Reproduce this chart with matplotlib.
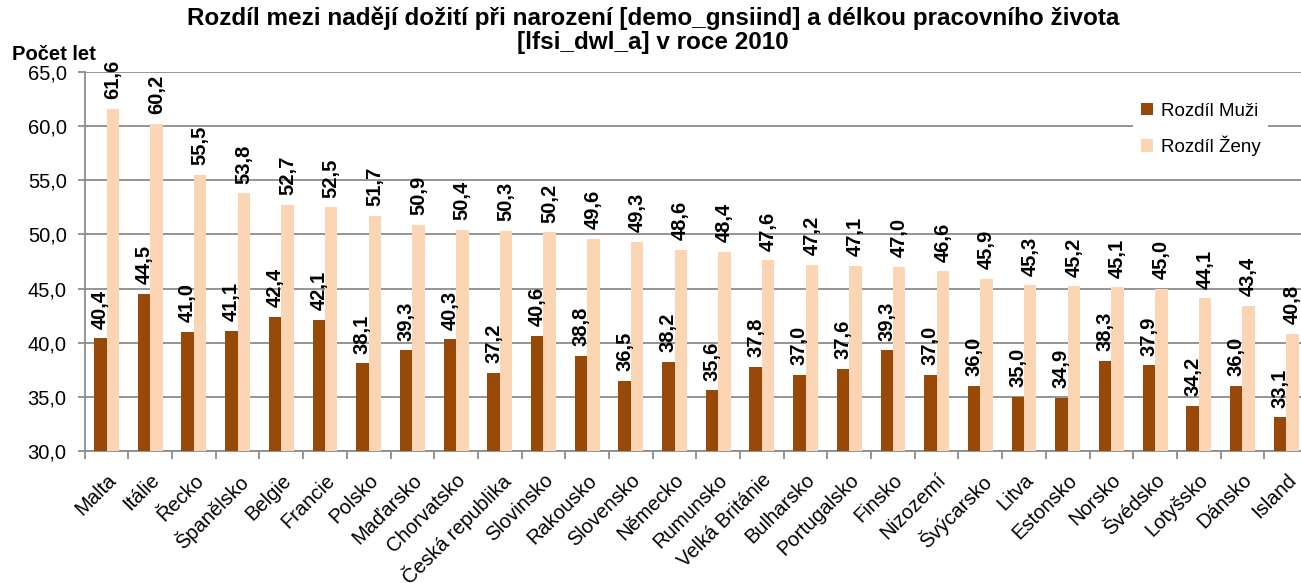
import matplotlib.pyplot as plt
import numpy as np

# Data
countries = ['Malta', 'Itálie', 'Řecko', 'Španělsko', 'Belgie', 'Francie', 'Polsko',
             'Maďarsko', 'Chorvatsko', 'Česká republika', 'Slovinsko', 'Rakousko',
             'Slovensko', 'Německo', 'Rumunsko', 'Velká Británie', 'Bulharsko',
             'Portugalsko', 'Finsko', 'Nizozemí', 'Švýcarsko', 'Litva', 'Estonsko',
             'Norsko', 'Švédsko', 'Lotyšsko', 'Dánsko', 'Island']
muzi = [40.4, 44.5, 41.0, 41.1, 42.4, 42.1, 38.1, 39.3, 40.3, 37.2, 40.6, 38.8, 36.5, 38.2,
        35.6, 37.8, 37.0, 37.6, 39.3, 37.0, 36.0, 35.0, 34.9, 38.3, 37.9, 34.2, 36.0, 33.1]
zeny = [61.6, 60.2, 55.5, 53.8, 52.7, 52.5, 51.7, 50.9, 50.4, 50.3, 50.2, 49.6, 49.3, 48.6,
        48.4, 47.6, 47.2, 47.1, 47.0, 46.6, 45.9, 45.3, 45.2, 45.1, 45.0, 44.1, 43.4, 40.8]
y_ticks = [30, 35, 40, 45, 50, 55, 60, 65]

plt.rcParams['font.family'] = ['Liberation Sans', 'DejaVu Sans']

dark = '#984807'
light = '#FCD5B5'
grid = '#8C8C8C'

fig = plt.figure(figsize=(13.01, 5.83), dpi=100)
ax = fig.add_axes([84.7 / 1301, 1 - 451 / 583, (1308 - 84.7) / 1301, (451 - 72) / 583])

x = np.arange(len(countries))
w = 0.285
ax.bar(x - w / 2, [v - 30 for v in muzi], w, bottom=30, color=dark, label='Rozdíl Muži', zorder=3)
ax.bar(x + w / 2, [v - 30 for v in zeny], w, bottom=30, color=light, label='Rozdíl Ženy', zorder=3)

# Data labels above the bars
for xs, vals in [(x - w / 2, muzi), (x + w / 2, zeny)]:
    for xi, v in zip(xs, vals):
        ax.annotate(f'{v:.1f}'.replace('.', ','), (xi, v), xytext=(0, 7), textcoords='offset points',
                    rotation=90, ha='center', va='bottom', fontsize=14.5, fontweight='bold',
                    annotation_clip=False, zorder=4)

ax.set_xlim(-0.5, len(countries) - 0.5)
ax.set_ylim(30, 65)
ax.set_yticks(y_ticks, [f'{t:.1f}'.replace('.', ',') for t in y_ticks], fontsize=14.5)
ax.yaxis.grid(True, color=grid, linewidth=1.3, zorder=0)
ax.tick_params(axis='y', length=5, color=grid, width=1.3, pad=8)

ax.set_xticks(x, countries, rotation=45, ha='right', va='top', rotation_mode='anchor', fontsize=14.5)
ax.set_xticks(np.arange(-0.5, len(countries), 1), minor=True)
ax.tick_params(axis='x', which='major', length=0, pad=14)
ax.tick_params(axis='x', which='minor', length=6, color=grid, width=1.3)

for spine in ['top', 'right']:
    ax.spines[spine].set_visible(False)
for spine in ['left', 'bottom']:
    ax.spines[spine].set_color(grid)
    ax.spines[spine].set_linewidth(1.3)

fig.text(0.502, 0.988, 'Rozdíl mezi nadějí dožití při narození [demo_gnsiind] a délkou pracovního života\n'
         '[lfsi_dwl_a] v roce 2010', ha='center', va='top', fontsize=17.5, fontweight='bold',
         linespacing=1.05)
fig.text(12 / 1301, 1 - 60 / 583, 'Počet let', ha='left', va='baseline', fontsize=14.5, fontweight='bold')

ax.legend(loc='upper left', bbox_to_anchor=(1133 / 1301, 1 - 95 / 583),
          bbox_transform=fig.transFigure, borderaxespad=0, fontsize=13.5,
          handlelength=0.65, handleheight=0.65, handletextpad=0.45, labelspacing=0.85,
          frameon=True, facecolor='white', edgecolor='none', framealpha=1, fancybox=False)

fig.savefig('out.png', dpi=100)
